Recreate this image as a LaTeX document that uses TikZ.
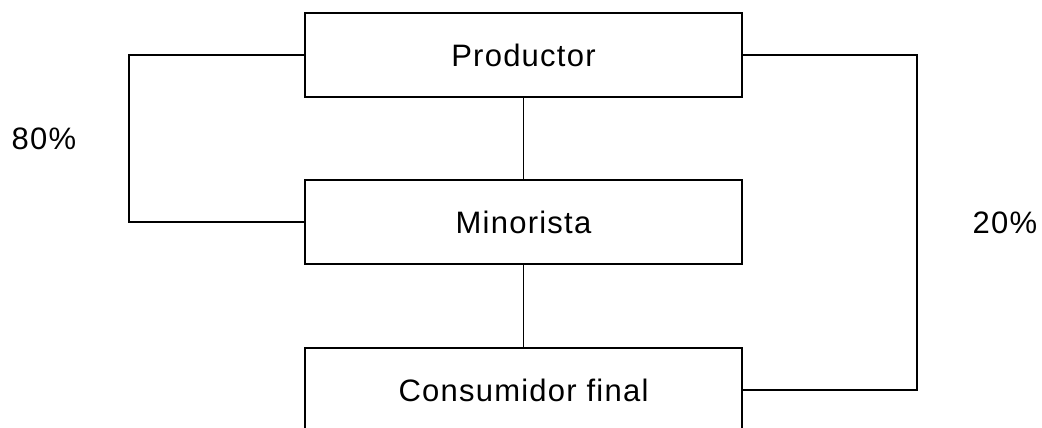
\documentclass[tikz,border=0pt]{standalone}
\usepackage{fontspec}
\setmainfont{Liberation Sans}[LetterSpace=4]
\begin{document}
\begin{tikzpicture}[x=1pt,y=1pt,
  boxnode/.style={draw, line width=1.6pt, minimum width=437pt, minimum height=84pt, inner sep=0pt, font=\fontsize{31}{37}\selectfont},
  lbl/.style={inner sep=0pt, anchor=base, font=\fontsize{31}{37}\selectfont},
  conn/.style={line width=1.6pt}]
\useasboundingbox (0,0) rectangle (1042,-428);
\node[boxnode] (P) at (523.5,-55) {Productor};
\node[boxnode] (M) at (523.5,-222) {Minorista};
\node[boxnode] (C) at (523.5,-390) {Consumidor final};
\coordinate (L) at (129,-55);
\coordinate (R) at (917,-55);
\draw[conn] (P.south) -- (M.north);
\draw[conn] (M.south) -- (C.north);
\draw[conn] (P.west) -- (L) |- (M.west);
\draw[conn] (P.east) -- (R) |- (C.east);
\node[lbl] (p80) at (44,-149) {80\%};
\node[lbl] (p20) at (1005,-233) {20\%};
\end{tikzpicture}
\end{document}
